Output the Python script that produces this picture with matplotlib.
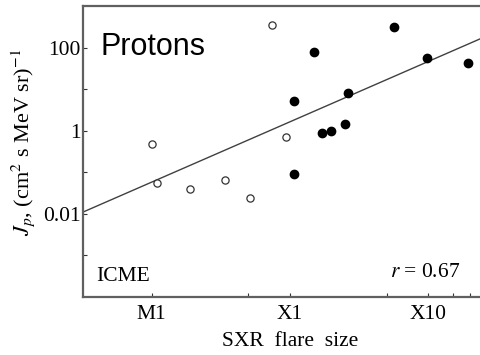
import numpy as np
import matplotlib.pyplot as plt
from matplotlib.ticker import FixedLocator, FixedFormatter, NullFormatter

plt.rcParams['font.family'] = ['Liberation Serif', 'DejaVu Serif']
plt.rcParams['mathtext.fontset'] = 'stix'

# flare size (SXR peak flux, W m^-2) and proton intensity
open_x = [1.0e-5, 1.10e-5, 1.89e-5, 3.39e-5, 5.14e-5, 9.35e-5, 7.38e-5]
open_y = [0.47, 0.054, 0.039, 0.067, 0.024, 0.69, 347.0]
filled_x = [1.07e-4, 1.07e-4, 1.69e-4, 1.98e-4, 2.50e-4, 2.64e-4, 1.50e-4, 5.65e-4, 9.84e-4, 1.95e-3]
filled_y = [5.1, 0.093, 0.86, 0.99, 1.49, 8.1, 76.6, 316.0, 56.8, 41.6]

# regression in log-log space: log10(J) = slope*log10(F) + intercept
fit_slope = 1.451
fit_intercept = 6.019

xticks = [1e-5, 1e-4, 1e-3]
xticklabels = ['M1', 'X1', 'X10']
xminor = [5e-5, 5e-4, 1.5e-3, 2e-3]
yticks = [1e-3, 1e-2, 1e-1, 1, 10, 100]
yticklabels = ['', '0.01', '', '1', '', '100']

fig = plt.figure(figsize=(4.81, 3.55), dpi=100)
ax = fig.add_axes([0.1726, 0.1634, 0.8274, 0.8197])
ax.set_xscale('log')
ax.set_yscale('log')
ax.set_xlim(10**-5.497, 10**-2.619)
ax.set_ylim(1e-4, 1e3)

xl = np.array(ax.get_xlim())
ax.plot(xl, 10**(fit_slope*np.log10(xl) + fit_intercept), color='#404040', lw=1.0)

ax.plot(open_x, open_y, 'o', mfc='white', mec='#333333', mew=0.9, ms=5.2, ls='none')
ax.plot(filled_x, filled_y, 'o', color='black', ms=6, ls='none')

ax.xaxis.set_major_locator(FixedLocator(xticks))
ax.xaxis.set_major_formatter(FixedFormatter(xticklabels))
ax.xaxis.set_minor_locator(FixedLocator(xminor))
ax.xaxis.set_minor_formatter(NullFormatter())
ax.yaxis.set_major_locator(FixedLocator(yticks))
ax.yaxis.set_major_formatter(FixedFormatter(yticklabels))
ax.yaxis.set_minor_locator(FixedLocator([]))

ax.tick_params(which='both', direction='in', length=3, width=0.8, color='#333333',
               labelsize=15.5, top=False, right=False)
ax.tick_params(axis='x', pad=5.5)
ax.tick_params(axis='y', pad=1.5)

for s in ['left', 'bottom', 'top']:
    ax.spines[s].set_color('#606060')
    ax.spines[s].set_linewidth(1.6)
ax.spines['right'].set_visible(False)

ax.set_xlabel('SXR  flare  size', fontsize=15.5)
ax.xaxis.set_label_coords(0.52, -0.122)
ax.set_ylabel(r'$J_p$, (cm$^2$ s MeV sr)$^{-1}$', fontsize=16)
ax.yaxis.set_label_coords(-0.115, 0.53)

ax.text(0.045, 0.832, 'Protons', transform=ax.transAxes, family='Liberation Sans',
        fontsize=22, va='baseline')
ax.text(0.034, 0.055, 'ICME', transform=ax.transAxes, fontsize=15.5, va='baseline')
ax.text(0.947, 0.069, r'$r$ = 0.67', transform=ax.transAxes, fontsize=15.5,
        ha='right', va='baseline')

fig.savefig('out.png', dpi=100)
